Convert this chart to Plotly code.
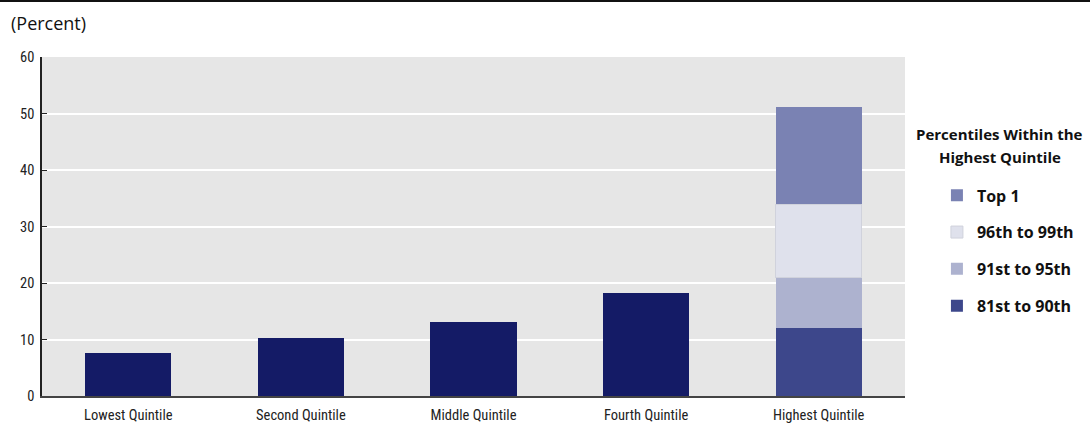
import plotly.graph_objects as go

categories = ["Lowest Quintile", "Second Quintile", "Middle Quintile", "Fourth Quintile", "Highest Quintile"]
quintile_values = [7.6, 10.3, 13.1, 18.2, None]
seg_names = ["81st to 90th", "91st to 95th", "96th to 99th", "Top 1"]
seg_values = [12.0, 8.9, 13.0, 17.2]
seg_colors = ["#3d478b", "#adb2cf", "#dfe1ec", "#7a82b3"]
y_ticks = [0, 10, 20, 30, 40, 50, 60]
legend_title_lines = ["Percentiles Within the", "Highest Quintile"]

font_fam = "Liberation Sans Narrow, Roboto Condensed, Arial Narrow, Roboto, sans-serif"
bold_fam = "Open Sans, sans-serif"

fig = go.Figure()
fig.add_trace(go.Bar(x=categories, y=quintile_values, marker_color="#141b66",
                     marker_line_width=0, showlegend=False))
for i, (n, v, c) in enumerate(zip(seg_names, seg_values, seg_colors)):
    fig.add_trace(go.Bar(x=[categories[-1]], y=[v], name=n, marker_color=c,
                         marker_line=dict(color="#d0d2dc" if i == 2 else c, width=1 if i == 2 else 0),
                         legendgroup=n, legendrank=10 - i))

fig.update_layout(
    barmode="stack",
    bargap=0.5,
    width=1090, height=426,
    margin=dict(l=42, r=185, t=57, b=30, autoexpand=False),
    paper_bgcolor="white",
    plot_bgcolor="#e6e6e6",
    font=dict(family=font_fam, size=14.5, color="#222"),
    legend=dict(
        x=1.037, y=0.642, xanchor="left", yanchor="top",
        traceorder="grouped", tracegroupgap=13,
        font=dict(family=bold_fam, size=16, color="#111", weight="bold"),
        bgcolor="rgba(0,0,0,0)",
    ),
    xaxis=dict(showgrid=False, showline=True, linecolor="#444", linewidth=1.5,
               ticks="", ticklabelstandoff=5, tickfont=dict(size=14.5, color="#222")),
    yaxis=dict(range=[0, 60], tickvals=y_ticks, showgrid=True, gridcolor="white", gridwidth=1.5,
               showline=True, linecolor="#222", linewidth=1.5, ticks="inside", ticklen=5,
               ticklabelstandoff=3,
               tickcolor="#222", zeroline=False, tickfont=dict(size=14.5, color="#222")),
)
for txt, yy in zip(legend_title_lines, [0.773, 0.705]):
    fig.add_annotation(text=txt, xref="paper", yref="paper",
                       x=1.110, y=yy, xanchor="center", yanchor="middle", align="center",
                       showarrow=False,
                       font=dict(family=bold_fam, size=15, color="#111", weight="bold"))
fig.add_annotation(text="(Percent)", xref="paper", yref="paper", x=-0.038, y=1.100,
                   xanchor="left", yanchor="middle", showarrow=False,
                   font=dict(family=bold_fam, size=18, color="#111"))
fig.add_shape(type="line", xref="paper", yref="paper", x0=-0.05, x1=1.22, y0=1.165, y1=1.165,
              line=dict(color="#111", width=2))
fig.write_html("out.html", config={"displayModeBar": False},
               post_script="document.body.style.margin='0';")
